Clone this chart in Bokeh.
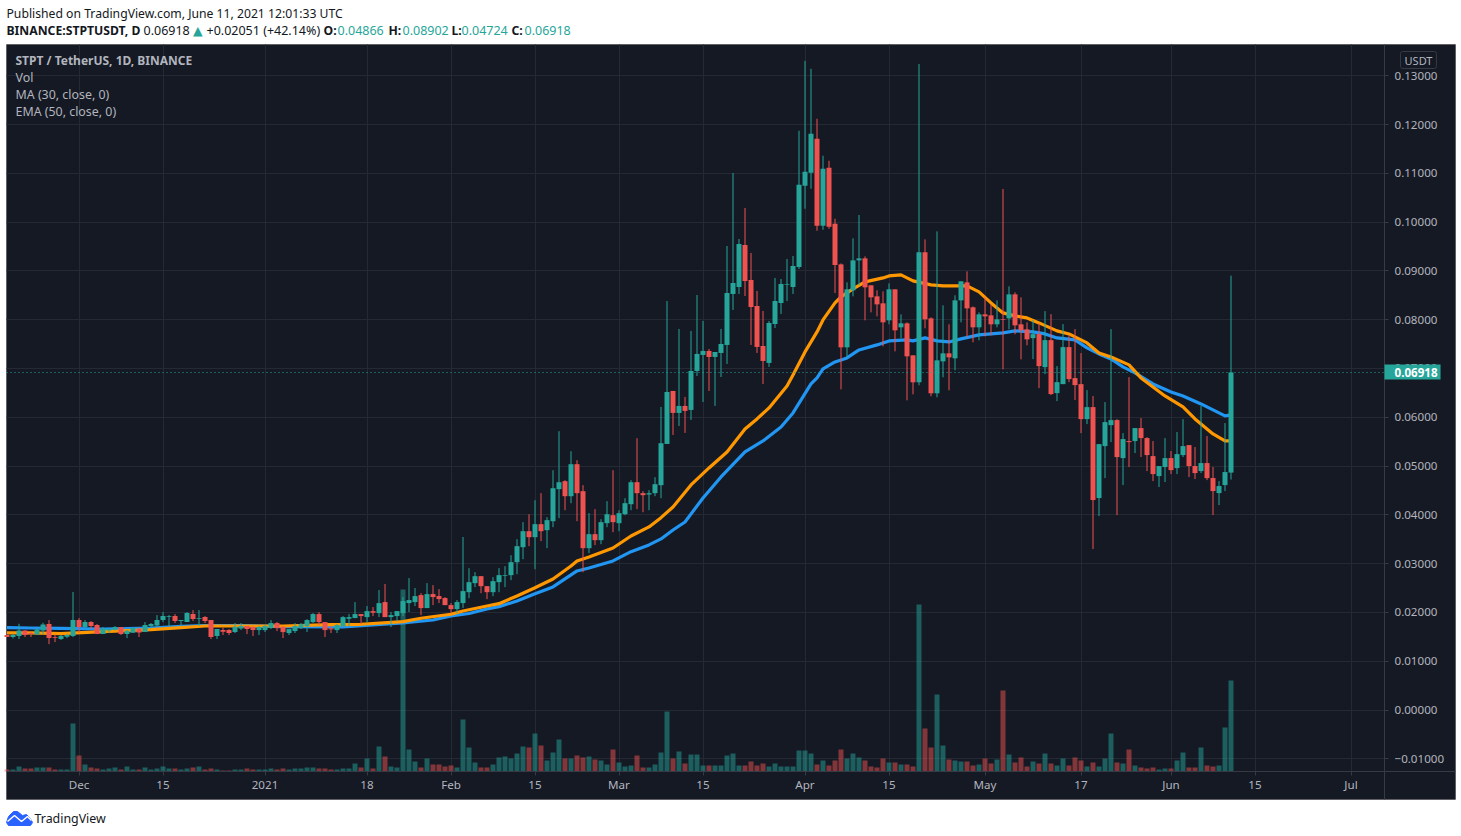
from datetime import date, timedelta
from bokeh.plotting import figure
from bokeh.models import ColumnDataSource, Range1d, FixedTicker, Label, BoxAnnotation
from bokeh.embed import file_html
from bokeh.resources import INLINE

# ---------- data (prices in 1e-5 USDT) ----------
first_date = date(2020, 11, 19)
opens = [
 1536,1495,1515,1631,1577,1549,1631,1761,1495,1454, 1502,1515,1843,1700,1802,1741,1556,1631,1645,1700,
 1556,1583,1659,1597,1720,1734,1843,1911,1925,1822, 1802,1966,1870,1904,1843,1515,1638,1638,1597,1672,
 1720,1700,1638,1638,1686,1782,1700,1577,1618,1679, 1720,1802,1966,1802,1672,1638,1720,1870,1884,1966,
 1904,2027,1986,2212,1904,1925,1986,2191,2212,2355, 2089,2376,2335,2294,2150,2068,2191,2415,2600,2743,
 2538,2415,2620,2750,2764,3030,3337,3665,3542,3809, 3686,3870,4526,4690,4382,5038,4485,3317,3604,3481,
 3829,3993,3829,4013,4218,4669,4444,4416,4444,4608, 5453,6539,6089,6232,6150,6949,7277,7359,7236,7318,
 7482,8527,8670,9531,8814,8281,7461,7113,7912,8342, 8718,8670,9080,10745,11011,11708,9925,11114,9966,9134,
 7433,8601,9216,9257,8704,8478,8335,7987,8622,7843, 7925,7269,6716,9380,8027,6491,7146,7310,7208,8396,
 8765,8253,7843,8109,8089,7905,8007,8027,8519,7905, 7802,7622,7704,7028,7581,6495,6679,7438,6802,6679,
 5962,6208,4344,5409,5839,5942,5163,5512,5512,5778, 5573,5204,4794,4979,5163,4958,5225,5429,5000,4897,
 5061,4754,4446,4610,4866]
highs = [
 1536,1563,1768,1631,1597,1672,1788,1843,1549,1536, 1563,2417,1884,1843,1822,1761,1700,1672,1720,1700,
 1638,1700,1686,1802,1782,1945,2007,1945,1966,1843, 2007,2048,2048,1925,1843,1659,1686,1659,1782,1782,
 1720,1720,1720,1741,1843,1802,1720,1659,1782,1782, 1863,1986,2007,1802,1720,1761,1925,1966,2212,1966,
 2130,2109,2458,2581,2007,2027,2314,2704,2499,2396, 2601,2560,2478,2314,2191,2253,3546,2907,2825,2743,
 2538,2723,2907,2948,3173,3501,3850,4013,4300,4444, 3952,4915,5714,4710,5304,5120,4608,4034,4116,3911,
 4280,4915,4095,4341,4710,5571,4485,4505,4772,6212, 8383,6539,7810,6416,7769,8506,7974,7400,7338,7810,
 9510,11006,9654,10289,9367,8588,8179,7974,8855,8834, 9244,9305,11872,13306,13142,12118,11360,11257,10069,9154,
 8765,9667,10146,9298,8704,8601,8581,8745,8622,8109, 7946,7269,13240,9646,8048,9810,8294,7905,8499,8786,
 8991,8273,8150,8458,8314,8396,10679,8683,8560,8458, 7946,7991,7929,8175,8114,7048,7909,7683,7806,7315,
 6557,6434,5450,6311,7806,5962,5675,6823,5778,5983, 5593,5512,5000,5573,5307,5696,5962,5429,5389,6229,
 5614,4979,4692,5881,8902]
lows = [
 1495,1467,1454,1495,1495,1549,1549,1351,1392,1433, 1474,1495,1583,1686,1659,1556,1556,1577,1631,1536,
 1474,1577,1495,1597,1679,1720,1802,1720,1782,1720, 1802,1822,1720,1782,1454,1454,1536,1536,1577,1638,
 1556,1515,1536,1597,1659,1618,1474,1536,1577,1659, 1597,1782,1741,1495,1577,1577,1720,1720,1884,1761,
 1802,1925,1904,1904,1700,1822,1925,2007,2130,1945, 2089,2150,2191,2150,1986,1986,2090,2292,2518,2395,
 2272,2333,2415,2518,2661,2784,3091,3358,2886,3460, 3317,3747,3932,4095,4239,3870,2825,3214,3378,3399,
 3747,3645,3665,3993,4095,4116,4054,4095,4382,4341, 5453,5638,5822,5679,5945,6847,6314,6539,6232,6826,
 7093,8199,8527,8486,7482,7318,6683,7031,7830,8117, 8383,8527,9039,10274,10683,9823,9843,9864,8547,6573,
 7228,8478,8704,7987,8150,8068,7454,7905,7351,7618, 6347,6470,6655,7823,6429,6409,6819,6552,6962,7946,
 7638,7536,7577,7659,7679,7843,6983,7802,7700,7187, 7474,7192,6597,6884,6454,6331,6679,6720,6352,5675,
 5860,3300,3975,4753,5491,3995,4610,4979,5266,5184, 4897,4692,4569,4672,4835,4835,5184,4774,4733,4856,
 4712,3996,4200,4487,4724]
closes = [
 1495,1536,1631,1536,1556,1652,1754,1474,1481,1515, 1536,1843,1700,1802,1720,1556,1672,1659,1700,1556,
 1624,1679,1590,1741,1761,1843,1925,1925,1822,1843, 1986,1863,1884,1822,1495,1659,1604,1577,1706,1720,
 1659,1638,1700,1720,1782,1679,1597,1659,1720,1761, 1843,1966,1802,1638,1652,1741,1904,1904,1966,1925,
 2027,1993,2191,1904,1945,2027,2232,2253,2335,2089, 2376,2314,2273,2150,2068,2212,2437,2620,2743,2538,
 2415,2641,2764,2764,3030,3358,3665,3542,3809,3665, 3891,4546,4669,4382,5038,4444,3317,3604,3481,3850,
 4013,3850,4034,4239,4669,4444,4403,4444,4628,5468, 6519,6089,6232,6130,6949,7298,7359,7236,7338,7502,
 8547,8752,9551,8793,8260,7441,7154,7933,8383,8732, 8732,9101,10765,11032,11810,9925,11093,9905,9121,7433,
 8622,9216,9257,8663,8458,8314,7946,8622,7782,7925, 7249,6716,9380,8007,6491,7167,7310,7228,8396,8786,
 8232,7843,8109,8068,7905,8007,7993,8519,7884,7782, 7597,7704,7048,7581,6475,6720,7438,6782,6659,5962,
 6208,4303,5450,5901,5942,5184,5553,5491,5778,5573, 5225,4835,5000,5163,4917,5245,5409,5000,4856,5061,
 4753,4487,4590,4877,6918]
volumes = [
 2,2,5,3,3,4,4,4,2,2, 2,48,16,7,4,3,2,3,4,2, 5,2,2,4,2,3,5,3,3,2, 3,4,5,2,3,2,1,1,2,2,
 3,2,2,2,3,2,3,2,3,3, 4,4,3,3,2,2,3,3,8,4, 13,3,25,15,5,4,182,22,10,4, 13,7,7,5,6,4,52,24,9,4,
 4,7,14,15,13,18,25,24,38,26, 11,19,32,13,13,16,14,15,12,11, 7,22,9,5,6,16,4,4,7,19, 60,13,20,8,17,17,6,6,6,6,
 16,18,6,6,10,6,8,5,8,5, 5,5,21,21,18,7,11,6,11,22, 13,18,14,11,5,4,13,9,9,7, 7,5,167,43,24,77,26,12,11,10,
 10,6,7,13,8,12,81,17,9,14, 5,10,8,18,8,6,13,6,14,11, 5,9,5,13,38,9,8,22,6,4, 3,4,2,3,3,11,19,4,4,24,
 6,5,6,44,91]

# indicator lines: day number counted from 1 Dec 2020, value in 1e-5 USDT
ema_days = [-12,-8,-3,4,12,17,21,27,34,42,47,54,57,62,64,68,70,73,76,79,82,83,85,89,92,95,97,99,102,105,108,111,113,115,
            118,119,121,123,124,126,127,129,131,134,135,137,139,142,144,146,148,150,152,154,156,158,160,163,165,168,170,172,175,177,179,181,184,186,189,191,192]
ema_vals = [1579,1579,1564,1605,1646,1687,1722,1722,1722,1749,1757,1810,1880,1962,2030,2132,2179,2337,2507,2686,2952,3055,3137,3321,3567,3752,3942,4162,4613,4961,5289,5761,5966,6191,
            6642,6868,7339,7749,7995,8344,8467,8631,8774,8856,8897,8918,8795,8713,8692,8692,8692,8569,8344,8139,8077,8036,7934,7770,7708,7524,7319,7237,7073,6806,6622,6437,6212,5966,5658,5515,5515]
ma_days = [-12,-8,-3,4,12,17,21,27,34,44,54,59,62,65,68,70,73,76,79,82,83,85,89,92,95,97,99,101,104,107,111,114,117,119,122,123,124,126,128,130,133,135,138,139,141,143,145,147,150,154,156,159,161,163,166,168,170,172,174,176,179,182,184,187,191,192]
ma_vals = [1687,1681,1675,1660,1681,1712,1732,1732,1708,1702,1784,1845,1927,1978,2071,2118,2235,2384,2522,2768,2850,2911,3055,3245,3383,3506,3690,3854,4346,4777,5289,5515,5802,6089,6683,6806,6991,7134,7216,7380,7483,7565,7585,7565,7626,7565,7544,7606,7688,7729,7770,7749,7708,7626,7585,7421,7298,7196,7032,6909,6683,6519,6437,6273,6027,6048]

price_ticks = [0.13,0.12,0.11,0.10,0.09,0.08,0.07,0.06,0.05,0.04,0.03,0.02,0.01,0.0,-0.01]
price_labels = ["0.13000","0.12000","0.11000","0.10000","0.09000","0.08000","0.07000","0.06000","0.05000","0.04000","0.03000","0.02000","0.01000","0.00000","\u22120.01000"]
time_ticks = [0,14,31,48,62,76,90,104,121,135,151,167,182,196,212]
time_labels = ["Dec","15","2021","18","Feb","15","Mar","15","Apr","15","May","17","Jun","15","Jul"]

# ---------- style ----------
BG = "#151924"; GRID = "#252933"; UP = "#26a69a"; DOWN = "#ef5350"; TXT = "#b2b5be"; INK = "#131722"
FONT = "Noto Sans"
W, H = 1461, 830
def X(px): return (px - 78.5) / 6.0          # page pixel column -> day number
def Y(py): return (709.5 - py) / 4879.0      # page pixel row -> price

n = len(opens)
days = [(first_date + timedelta(days=i) - date(2020, 12, 1)).days for i in range(n)]
o = [v/1e5 for v in opens]; h = [v/1e5 for v in highs]; l = [v/1e5 for v in lows]; c = [v/1e5 for v in closes]
colors = [UP if cc >= oo else DOWN for oo, cc in zip(o, c)]
src = ColumnDataSource(dict(day=days, o=o, h=h, l=l, c=c, vol=volumes, color=colors))

p = figure(width=W, height=H, x_range=Range1d(X(0), X(W)), y_range=Range1d(Y(H), Y(0)),
           y_axis_location="right", toolbar_location=None, output_backend="svg",
           background_fill_color="#ffffff", border_fill_color="#ffffff", outline_line_color=None,
           min_border=0)
p.extra_y_ranges["vol"] = Range1d(771 - H, 771)

# dark chart panel with its black edge
p.add_layout(BoxAnnotation(left=X(6), right=X(1455), top=Y(44), bottom=Y(799), fill_color=BG, fill_alpha=1,
                           line_color="#000000", line_width=1, level="image"))

for ax, ticks, labels in [(p.xaxis[0], time_ticks, time_labels), (p.yaxis[0], price_ticks, price_labels)]:
    ax.ticker = FixedTicker(ticks=ticks)
    ax.major_label_overrides = dict(zip(ticks, labels))
    ax.minor_tick_line_color = None
    ax.major_tick_line_color = "#363a45"
    ax.major_tick_in = 0
    ax.major_tick_out = 4
    ax.axis_line_color = "#363a45"
    ax.major_label_text_color = TXT
    ax.major_label_text_font = FONT
    ax.major_label_text_font_size = "11.6px"
p.xaxis[0].fixed_location = Y(771)
p.yaxis[0].fixed_location = X(1384)
p.xaxis[0].bounds = (X(6), X(1455))
p.yaxis[0].bounds = (Y(799), Y(44))
p.xaxis[0].major_label_standoff = 1
p.yaxis[0].major_label_standoff = 6

p.xgrid.ticker = FixedTicker(ticks=time_ticks)
p.ygrid.ticker = FixedTicker(ticks=price_ticks)
p.xgrid.grid_line_color = GRID
p.ygrid.grid_line_color = GRID
p.xgrid.cross_bounds = (Y(771), Y(44))
p.ygrid.cross_bounds = (X(6), X(1384))

p.vbar("day", width=5/6, top="vol", bottom=0, source=src, fill_color="color", fill_alpha=0.5,
       line_color=None, y_range_name="vol")
p.line(ma_days, [v/1e5 for v in ma_vals], line_color="#2196f3", line_width=3.2, line_join="round")
p.line(ema_days, [v/1e5 for v in ema_vals], line_color="#ff9800", line_width=3.2, line_join="round")
p.segment("day", "l", "day", "h", source=src, line_color="color", line_width=1)
p.vbar("day", width=5/6, top="o", bottom="c", source=src, fill_color="color", line_color=None)
p.line([X(6), X(1384)], [c[-1], c[-1]], line_color=UP, line_dash="1 3", line_width=1)

def note(text, x, y, color=TXT, size="12.4px", style="normal", align="left", font=FONT, **kw):
    p.add_layout(Label(x=X(x), y=Y(y), text=text, text_color=color, text_font=font, text_font_size=size,
                       text_font_style=style, text_align=align, text_baseline="middle", **kw))

note("STPT / TetherUS, 1D, BINANCE", 15, 60, size="12px", style="bold")
note("Vol", 15, 77)
note("MA (30, close, 0)", 15, 94)
note("EMA (50, close, 0)", 15, 111)
note("USDT", 1418, 59.5, size="11px", align="center", border_line_color="#363a45",
     border_radius=2, padding=(4, 4, 1, 1))
note("0.06918", 1384, 371.5, color="#ffffff", size="11.6px", style="bold",
     background_fill_color=UP, padding=(10, 3, 3, 3))

# header
row2 = 29.5
note("Published on TradingView.com, June 11, 2021 12:01:33 UTC", 6, 13, color=INK, size="12.2px")
note("BINANCE:STPTUSDT, D", 6, row2, color=INK, size="12.2px", style="bold")
note("0.06918", 143, row2, color=INK, size="12.5px")
note("\u25b2", 192.5, row2, color=UP, size="12.5px", font="DejaVu Sans")
note("+0.02051 (+42.14%)", 206, row2, color=INK, size="12.5px")
for txt, xa, val, xb in [("O:", 323, "0.04866", 337), ("H:", 388, "0.08902", 402),
                         ("L:", 451, "0.04724", 461), ("C:", 511, "0.06918", 524)]:
    note(txt, xa, row2, color=INK, size="12.2px", style="bold")
    note(val, xb, row2, color=UP, size="12.5px")

# footer: logo and name
logo_x = [6, 8, 13, 17, 22, 26, 30, 32, 30, 8]
logo_y = [822, 816, 811, 811, 815, 814, 818, 822, 825, 825]
p.patch([X(v) for v in logo_x], [Y(v) for v in logo_y], fill_color="#2962ff", line_color="#2962ff", line_width=1)
mark_x = [7, 14, 21, 27, 31]
mark_y = [821, 815, 821, 816, 820]
p.line([X(v) for v in mark_x], [Y(v) for v in mark_y], line_color="#ffffff", line_width=1.5)
note("TradingView", 34, 817.5, color=INK, size="12.4px")

open("out.html", "w").write(file_html(p, INLINE))
